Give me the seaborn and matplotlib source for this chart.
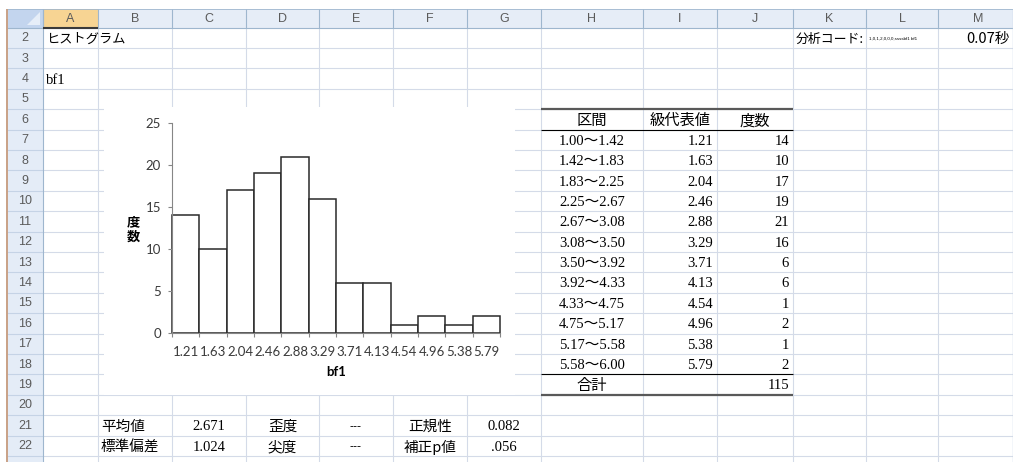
import matplotlib
matplotlib.use("Agg")
import matplotlib.pyplot as plt
from matplotlib.patches import Rectangle, Polygon
import numpy as np
import pandas as pd
import seaborn as sns

# histogram data
bin_edges = [1.00, 1.42, 1.83, 2.25, 2.67, 3.08, 3.50, 3.92, 4.33, 4.75, 5.17, 5.58, 6.00]
class_values = [1.21, 1.63, 2.04, 2.46, 2.88, 3.29, 3.71, 4.13, 4.54, 4.96, 5.38, 5.79]
counts = [14, 10, 17, 19, 21, 16, 6, 6, 1, 2, 1, 2]

# summary cells below the chart
stat_names_a = ["平均値", "標準偏差"]
stat_values_a = ["2.671", "1.024"]
stat_names_b = ["歪度", "尖度"]
stat_values_b = ["---", "---"]
stat_names_c = ["正規性", "補正p値"]
stat_values_c = ["0.082", ".056"]

var_name = "bf1"
sheet_title = "ヒストグラム"
code_label = "分析コード:"
code_text = "1,0,1,2,0,0,0,ssssbf1 bf1"
elapsed = "0.07秒"

W, H = 1013, 462
JP = ["Noto Sans CJK JP", "DejaVu Sans"]
SERIF = ["Liberation Serif", "Noto Sans CJK JP"]
HEAD = ["Liberation Sans", "DejaVu Sans"]
CHART = ["Lato", "DejaVu Sans"]

col_names = list("ABCDEFGHIJKLM")
col_edges = [43, 98, 172, 246, 319, 393, 467, 541, 643, 717, 793, 866, 938, 1018]
HDR_TOP, HDR_BOT = 9, 27.5
ROW_H = 20.4


def row_top(r):
    return HDR_BOT + (r - 2) * ROW_H


def row_mid(r):
    return row_top(r) + ROW_H / 2 + 1.5


def col_left(c):
    return col_edges[col_names.index(c)]


def col_right(c):
    return col_edges[col_names.index(c) + 1]


def col_mid(c):
    return (col_left(c) + col_right(c)) / 2


def cell(c, r, s, align="left", family=JP, size=10.5, **kw):
    if align == "left":
        x = col_left(c) + 3
    elif align == "right":
        x = col_right(c) - 4
    else:
        x = col_mid(c)
    bg.text(x, row_mid(r), s, ha=align, va="center", family=family,
            fontsize=size, color="black", zorder=6, **kw)


fig = plt.figure(figsize=(W / 100, H / 100), dpi=100)
bg = fig.add_axes([0, 0, 1, 1])
bg.set_xlim(0, W)
bg.set_ylim(H, 0)
bg.axis("off")

# sheet gridlines
grid = "#d4dbe8"
rows_vis = [r for r in range(2, 25) if row_top(r) < H]
bg.hlines([row_top(r) for r in rows_vis[1:]], 43, W, color=grid, lw=0.8, zorder=1)
bg.vlines(col_edges[1:], HDR_BOT, H, color=grid, lw=0.8, zorder=1)

# column header strip
bg.add_patch(Rectangle((43, HDR_TOP), W - 43, HDR_BOT - HDR_TOP, fc="#e6edf7", ec="none", zorder=2))
bg.add_patch(Rectangle((43, HDR_TOP), 55, HDR_BOT - HDR_TOP, fc="#f7d493", ec="none", zorder=2))
bg.vlines(col_edges, HDR_TOP, HDR_BOT, color="#9eb6ce", lw=0.8, zorder=3)
bg.hlines(HDR_BOT, 7, W, color="#9eb6ce", lw=0.8, zorder=3)
bg.hlines(HDR_BOT, 43, 98, color="#3a3a3a", lw=1.5, zorder=4)
bg.hlines(HDR_TOP, 7, W, color="#9eb6ce", lw=0.6, zorder=3)
for c in col_names:
    bg.text(min(col_mid(c), 978), (HDR_TOP + HDR_BOT) / 2 + 0.5, c, ha="center", va="center",
            family=HEAD, fontsize=9, color="#5b5b5b", zorder=4)

# corner cell
bg.add_patch(Rectangle((7, HDR_TOP), 36, HDR_BOT - HDR_TOP, fc="#c3d5ee", ec="none", zorder=2))
bg.add_patch(Polygon([(40, 12), (40, 25), (27, 25)], closed=True, fc="#e6eef8", ec="none", zorder=3))

# row header strip
bg.add_patch(Rectangle((7, HDR_BOT), 36, H - HDR_BOT, fc="#e4ecf7", ec="none", zorder=2))
bg.hlines([row_top(r) for r in rows_vis[1:]], 7, 43, color="#c5d3e6", lw=0.8, zorder=3)
bg.vlines(43, HDR_TOP, H, color="#9eb6ce", lw=0.8, zorder=3)
for r in range(2, 23):
    bg.text(25, row_mid(r) - 1, str(r), ha="center", va="center",
            family=HEAD, fontsize=9, color="#5b5b5b", zorder=4)
bg.vlines(7, HDR_TOP, H, color="#c9a186", lw=1.4, zorder=4)
bg.vlines(W - 0.5, HDR_TOP, H, color="#c5d3e6", lw=1.0, zorder=4)

# top cells
cell("A", 2, sheet_title, size=9.5)
cell("A", 4, var_name, family=SERIF, size=10.5)
cell("K", 2, code_label, size=9.3)
bg.text(col_left("L") + 3, row_mid(2) - 1, code_text, ha="left", va="center",
        family=HEAD, fontsize=3.2, color="black", zorder=6)
bg.text(1010, row_mid(2), elapsed, ha="right", va="center", family=JP,
        fontsize=10.5, color="black", zorder=6)

# frequency table
cell("H", 6, "区間", align="center", size=11)
cell("I", 6, "級代表値", align="center", size=11)
cell("J", 6, "度数", align="center", size=11)
for i, (v, n) in enumerate(zip(class_values, counts)):
    r = 7 + i
    cell("H", r, f"{bin_edges[i]:.2f}～{bin_edges[i + 1]:.2f}", align="center", family=SERIF)
    cell("I", r, f"{v:.2f}", align="right", family=SERIF)
    cell("J", r, str(n), align="right", family=SERIF)
cell("H", 19, "合計", align="center", size=11)
cell("J", 19, str(sum(counts)), align="right", family=SERIF)
tl, tr = col_left("H"), col_right("J")
bg.hlines(row_top(6), tl, tr, color="#595959", lw=1.6, zorder=5)
bg.hlines([row_top(7), row_top(19)], tl, tr, color="black", lw=0.8, zorder=5)
bg.hlines(row_top(20), tl, tr, color="#595959", lw=1.6, zorder=5)

# summary rows
for k in range(2):
    r = 21 + k
    cell("B", r, stat_names_a[k])
    cell("C", r, stat_values_a[k], align="center", family=SERIF)
    cell("D", r, stat_names_b[k], align="center")
    cell("E", r, stat_values_b[k], align="center", family=HEAD, size=9)
    cell("F", r, stat_names_c[k], align="center")
    cell("G", r, stat_values_c[k], align="center", family=SERIF)

# chart object area
bg.add_patch(Rectangle((104, 107), 411, 288, fc="white", ec="none", zorder=3))

# histogram chart
ax = fig.add_axes([172 / W, 1 - 333 / H, 328 / W, 210 / H])
ax.patch.set_alpha(0)
df = pd.DataFrame({"class": [f"{v:.2f}" for v in class_values], "count": counts})
sns.barplot(data=df, x="class", y="count", color="white", edgecolor="#2a2a2a",
            linewidth=1.1, width=1, saturation=1, errorbar=None, ax=ax)
for p in ax.patches:
    p.set_clip_on(False)

ax.set_xlim(-0.5, len(counts) - 0.5)
ax.set_ylim(0, 25)
ax.set_yticks(range(0, 26, 5))
ax.set_xticks(np.arange(-0.5, len(counts), 1), minor=True)
sns.despine(ax=ax)
for s in ["left", "bottom"]:
    ax.spines[s].set_color("#868686")
    ax.spines[s].set_linewidth(0.8)
ax.tick_params(axis="x", which="major", length=0, pad=9.5, labelsize=9.5, labelcolor="#3a3a3a")
ax.tick_params(axis="x", which="minor", length=3, width=0.8, color="#868686")
ax.tick_params(axis="y", length=3, width=0.8, color="#868686", pad=5, labelsize=9.5, labelcolor="#3a3a3a")
for lbl in ax.get_xticklabels() + ax.get_yticklabels():
    lbl.set_family(CHART)

ax.set_xlabel(var_name, family=CHART, fontweight="bold", fontsize=9.5, va="center")
ax.xaxis.set_label_coords(0.5, -0.186)
ax.set_ylabel("度\n数", rotation=0, family=JP, fontweight="bold", fontsize=9.5,
              linespacing=1.05, ha="center", va="center")
ax.yaxis.set_label_coords(-0.119, 0.495)

fig.savefig("out.png", dpi=100)
